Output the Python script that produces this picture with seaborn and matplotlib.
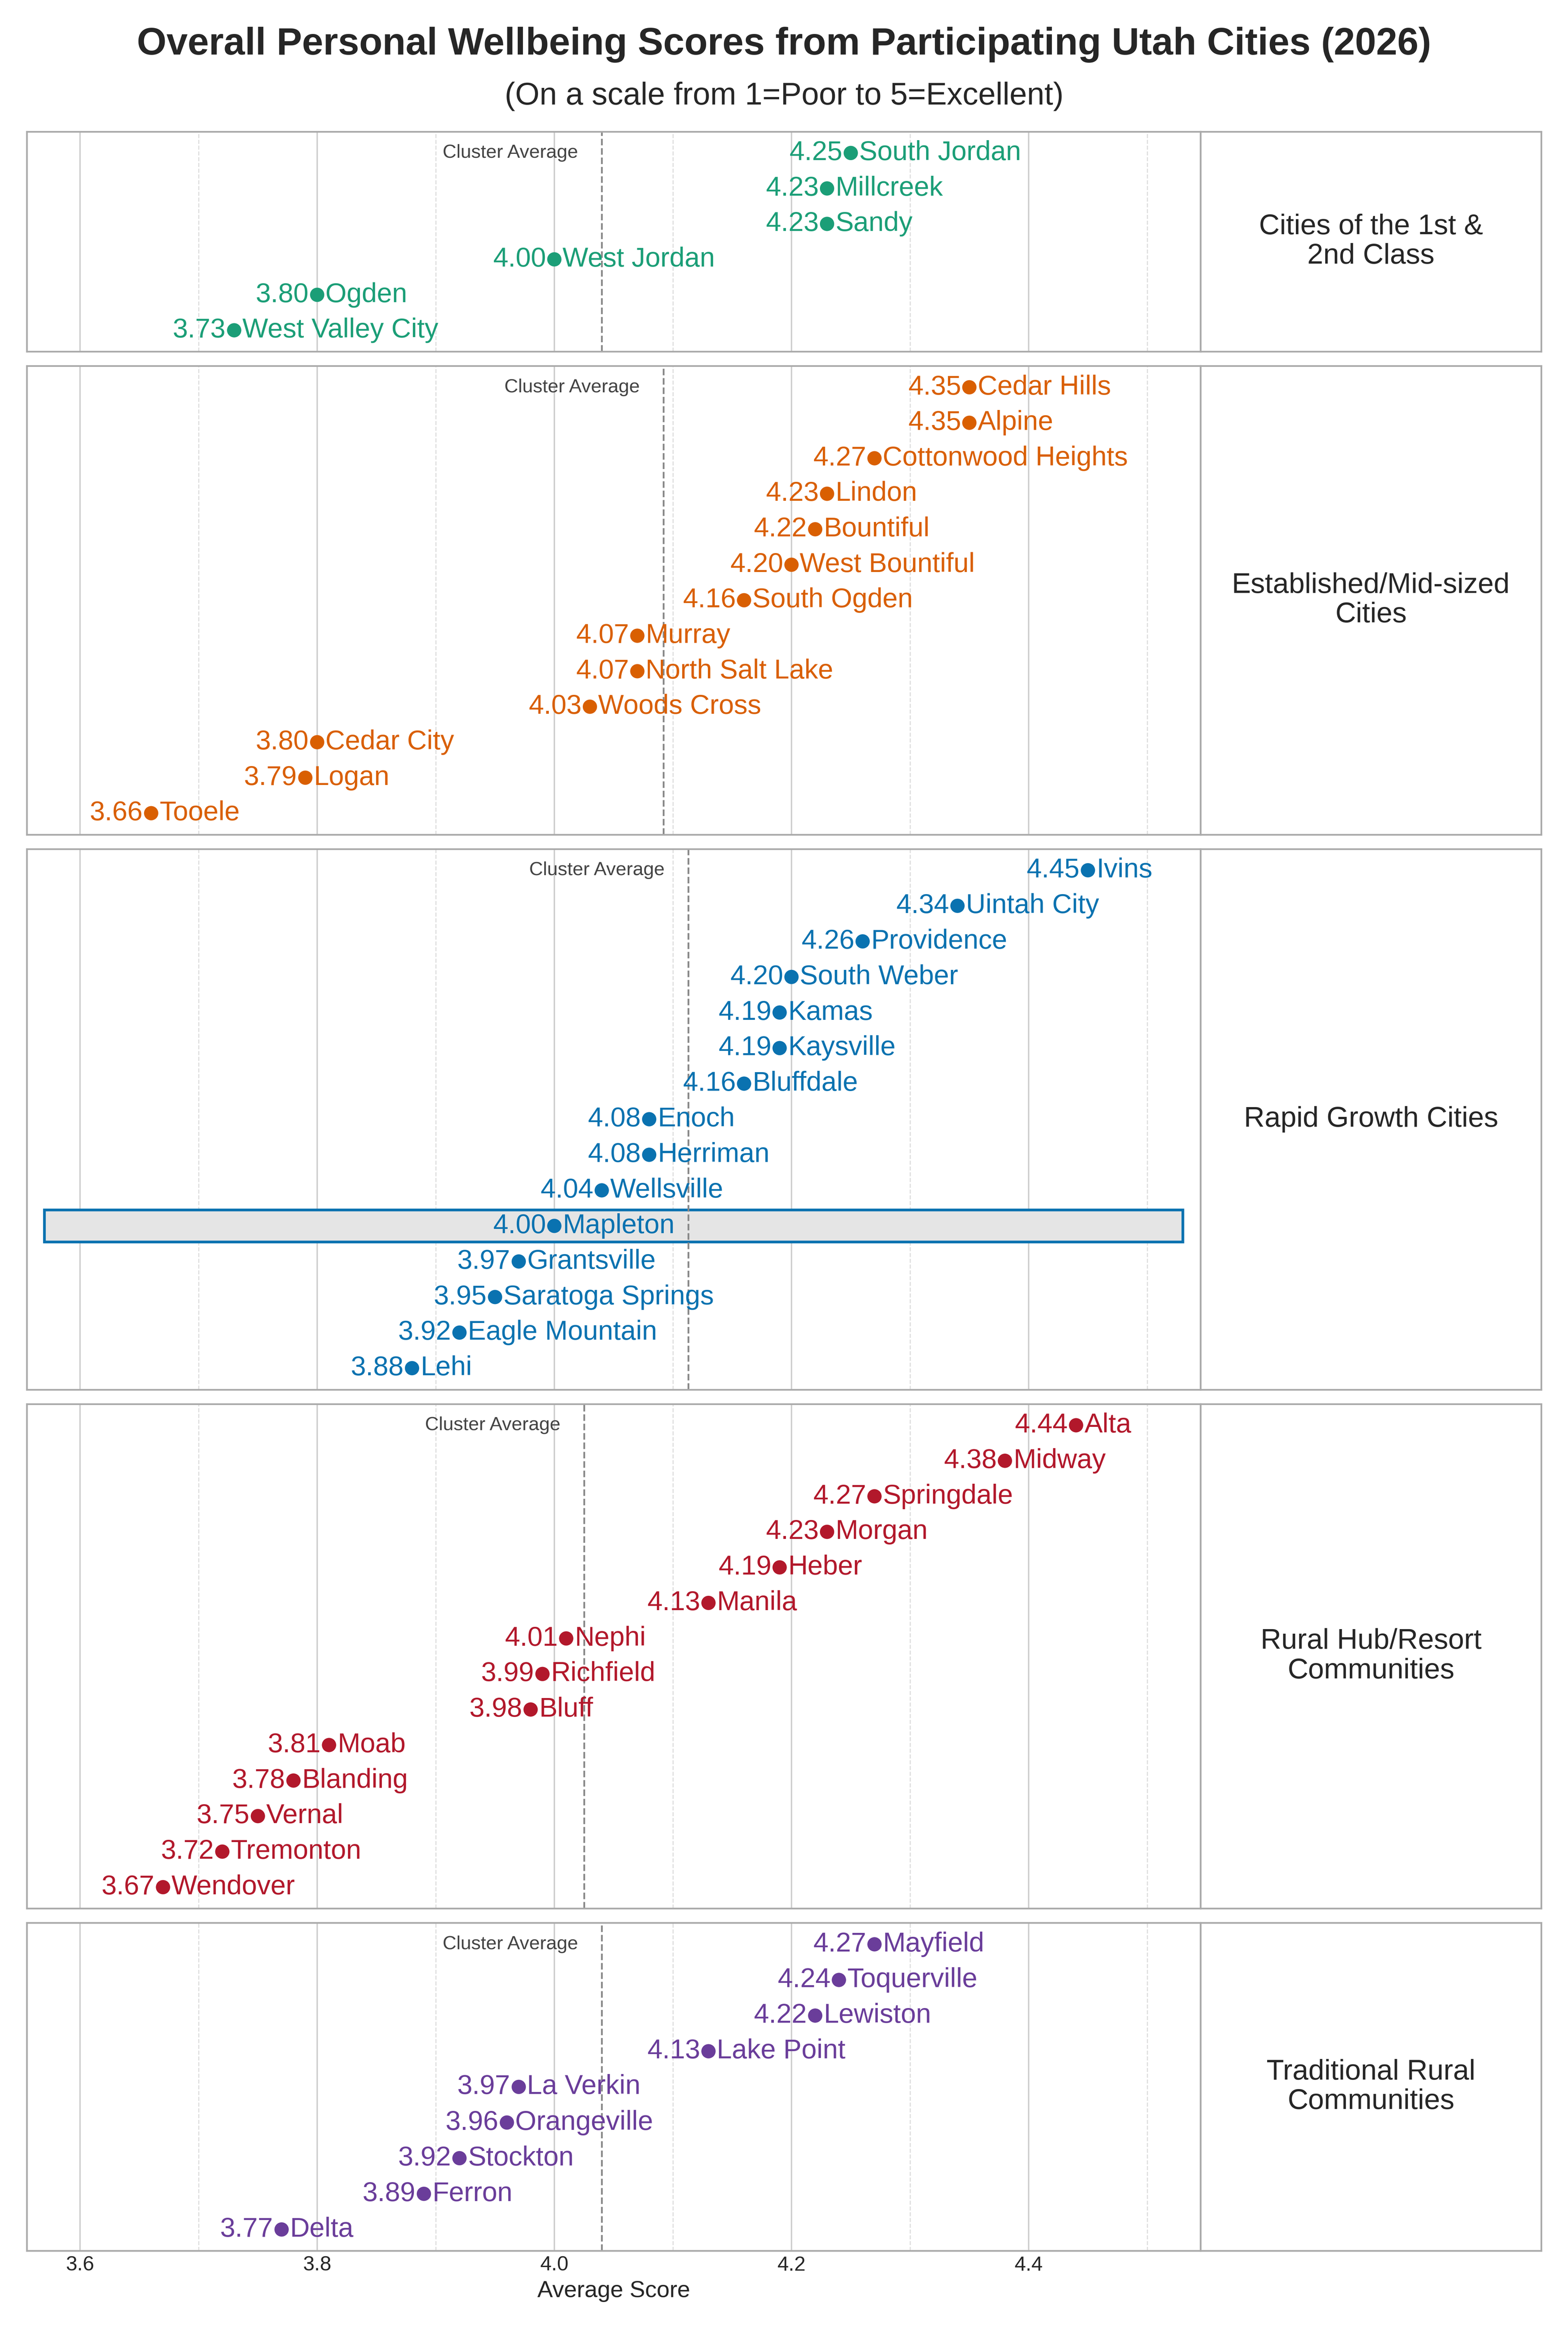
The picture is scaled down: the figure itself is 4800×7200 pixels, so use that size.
import matplotlib
matplotlib.use("Agg")
import matplotlib.pyplot as plt
import seaborn as sns
import pandas as pd
from matplotlib.patches import Rectangle

sns.set_theme(style="white")
plt.rcParams['font.family'] = ['Arial', 'Liberation Sans', 'DejaVu Sans']

clusters = ["Cities of the 1st &\n2nd Class", "Established/Mid-sized\nCities", "Rapid Growth Cities",
            "Rural Hub/Resort\nCommunities", "Traditional Rural\nCommunities"]
c1_names = ["South Jordan", "Millcreek", "Sandy", "West Jordan", "Ogden", "West Valley City"]
c1_vals = [4.25, 4.23, 4.23, 4.00, 3.80, 3.73]
c2_names = ["Cedar Hills", "Alpine", "Cottonwood Heights", "Lindon", "Bountiful", "West Bountiful",
            "South Ogden", "Murray", "North Salt Lake", "Woods Cross", "Cedar City", "Logan", "Tooele"]
c2_vals = [4.35, 4.35, 4.27, 4.23, 4.22, 4.20, 4.16, 4.07, 4.07, 4.03, 3.80, 3.79, 3.66]
c3_names = ["Ivins", "Uintah City", "Providence", "South Weber", "Kamas", "Kaysville", "Bluffdale", "Enoch",
            "Herriman", "Wellsville", "Mapleton", "Grantsville", "Saratoga Springs", "Eagle Mountain", "Lehi"]
c3_vals = [4.45, 4.34, 4.26, 4.20, 4.19, 4.19, 4.16, 4.08, 4.08, 4.04, 4.00, 3.97, 3.95, 3.92, 3.88]
c4_names = ["Alta", "Midway", "Springdale", "Morgan", "Heber", "Manila", "Nephi", "Richfield", "Bluff",
            "Moab", "Blanding", "Vernal", "Tremonton", "Wendover"]
c4_vals = [4.44, 4.38, 4.27, 4.23, 4.19, 4.13, 4.01, 3.99, 3.98, 3.81, 3.78, 3.75, 3.72, 3.67]
c5_names = ["Mayfield", "Toquerville", "Lewiston", "Lake Point", "La Verkin", "Orangeville", "Stockton",
            "Ferron", "Delta"]
c5_vals = [4.27, 4.24, 4.22, 4.13, 3.97, 3.96, 3.92, 3.89, 3.77]
cluster_avgs = [4.04, 4.092, 4.113, 4.025, 4.04]
colors = ["#1b9e77", "#d95f02", "#0a72b0", "#b2182b", "#6a3d9a"]
highlight = "Mapleton"

groups = [(c1_names, c1_vals), (c2_names, c2_vals), (c3_names, c3_vals), (c4_names, c4_vals), (c5_names, c5_vals)]

fig = plt.figure(figsize=(16, 24), dpi=300)
gs = fig.add_gridspec(5, 2, height_ratios=[6.1, 13, 15, 14, 9.1], width_ratios=[782, 227],
                      left=0.017, right=0.983, top=0.944, bottom=0.043, hspace=0.035, wspace=0)
xlim = (3.555, 4.545)
for i, (names, vals) in enumerate(groups):
    ax = fig.add_subplot(gs[i, 0])
    df = pd.DataFrame({"name": names, "val": vals, "row": range(len(names))})
    n = len(names)
    for x in [3.6, 3.8, 4.0, 4.2, 4.4]:
        ax.axvline(x, color="#cccccc", lw=1.0, zorder=0)
    for x in [3.7, 3.9, 4.1, 4.3, 4.5]:
        ax.axvline(x, color="#dddddd", lw=0.8, ls="--", zorder=0)
    if highlight in names:
        r = names.index(highlight)
        ax.add_patch(Rectangle((3.57, r - 0.45), 4.53 - 3.57, 0.9, facecolor="#e5e5e5",
                               edgecolor=colors[i], lw=2, zorder=1))
    sns.scatterplot(data=df, x="val", y="row", ax=ax, color=colors[i], s=110, edgecolor="none", zorder=3)
    for _, rw in df.iterrows():
        ax.text(rw.val - 0.007, rw.row, f"{rw.val:.2f}", ha="right", va="center", color=colors[i], fontsize=20, zorder=4)
        ax.text(rw.val + 0.007, rw.row, rw["name"], ha="left", va="center", color=colors[i], fontsize=20, zorder=4)
    ax.axvline(cluster_avgs[i], color="#888888", lw=1.3, ls="--", zorder=2)
    ax.text(cluster_avgs[i] - 0.02, 0, "Cluster Average", ha="right", va="center", fontsize=14, color="#444444")
    ax.set_xlim(*xlim)
    ax.set_ylim(n - 0.4, -0.6)
    ax.set_yticks([])
    ax.set_ylabel("")
    for s in ax.spines.values():
        s.set_color("#aaaaaa")
    ax.set_xticks([3.6, 3.8, 4.0, 4.2, 4.4])
    if i < 4:
        ax.tick_params(axis="x", length=0, labelbottom=False)
        ax.set_xlabel("")
    else:
        ax.set_xticklabels(["3.6", "3.8", "4.0", "4.2", "4.4"], fontsize=15)
        ax.tick_params(axis="x", length=0)
        ax.set_xlabel("Average Score", fontsize=17)
    lax = fig.add_subplot(gs[i, 1])
    lax.set_xticks([]); lax.set_yticks([])
    for s in lax.spines.values():
        s.set_color("#aaaaaa")
    lax.text(0.5, 0.5, clusters[i], ha="center", va="center", fontsize=21, transform=lax.transAxes,
             linespacing=1.15)

fig.text(0.5, 0.981, "Overall Personal Wellbeing Scores from Participating Utah Cities (2026)",
         ha="center", va="center", fontsize=28, fontweight="bold")
fig.text(0.5, 0.959, "(On a scale from 1=Poor to 5=Excellent)", ha="center", va="center", fontsize=23)
fig.savefig("out.png", dpi=300)
